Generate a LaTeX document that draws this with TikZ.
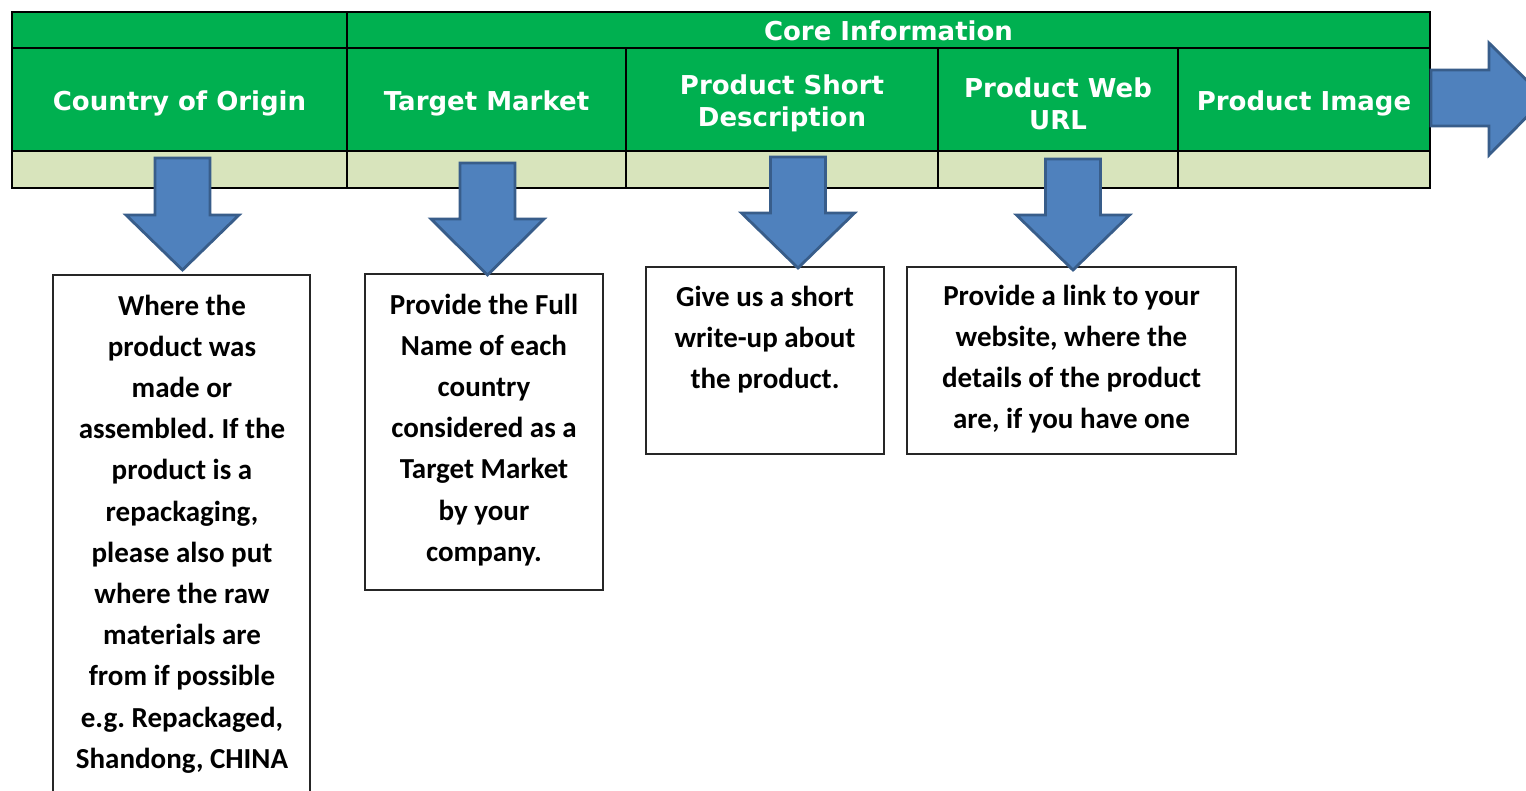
\documentclass[tikz,border=0pt]{standalone}
\usepackage{fontspec}
\newfontfamily\hdrfont{DejaVu Sans}
\newfontfamily\bodyfont{Carlito}
\definecolor{hgreen}{RGB}{0,176,80}
\definecolor{lgreen}{RGB}{216,228,188}
\definecolor{arrfill}{RGB}{79,129,189}
\definecolor{arrline}{RGB}{56,93,138}
\frenchspacing
\tikzset{
  hcell/.style={draw=black, line width=2pt, fill=hgreen, inner sep=0pt},
  htext/.style={text=white, font=\hdrfont\bfseries\fontsize{26}{32}\selectfont,
    align=center, inner sep=0pt},
  dcell/.style={draw=black, line width=2pt, fill=lgreen, inner sep=0pt},
  infobox/.style={draw=black!85, line width=2pt, fill=white, inner sep=0pt},
  infotext/.style={font=\bodyfont\bfseries\fontsize{29}{41.2}\selectfont,
    align=center, anchor=north, inner sep=0pt},
  blockarrow/.style={fill=arrfill, draw=arrline, line width=2.8pt, line join=miter},
}
% cell: name, x1, y1, x2, y2, style
\newcommand\tabcell[6]{%
  \node[#6, minimum width={#4-#2}, minimum height={#5-#3}] (#1)
    at ({(#2+#4)/2},{(#3+#5)/2}) {};}
% down block arrow: name, centre x, top y, head y, tip y
\newcommand\downblock[5]{%
  \coordinate (#1) at (#2,#5);
  \draw[blockarrow] (#2-27.5,#3) -- (#2+27.5,#3) -- (#2+27.5,#4) -- (#2+56.5,#4)
    -- (#1) -- (#2-56.5,#4) -- (#2-27.5,#4) -- cycle;}
\begin{document}
\begin{tikzpicture}[x=1pt,y=-1pt]
\clip (0,0) rectangle (1526,790);
\fill[white] (0,0) rectangle (1526,790);
% header row 1
\tabcell{h0}{12}{12}{347}{48}{hcell}
\tabcell{core}{347}{12}{1430}{48}{hcell}
% header row 2
\tabcell{c1}{12}{48}{347}{151}{hcell}
\tabcell{c2}{347}{48}{626}{151}{hcell}
\tabcell{c3}{626}{48}{938}{151}{hcell}
\tabcell{c4}{938}{48}{1178}{151}{hcell}
\tabcell{c5}{1178}{48}{1430}{151}{hcell}
% header texts
\node[htext, yshift=-0.5pt] (coret) at (core.center) {Core Information};
\node[htext, yshift=-4pt] (c1t) at (c1.center) {Country of Origin};
\node[htext, yshift=-4pt] (c2t) at (c2.center) {Target Market};
\node[htext, yshift=-4pt] (c3t) at (c3.center) {Product Short\\Description};
\node[htext, yshift=-4pt] (c4t) at (c4.center) {Product Web\\URL};
\node[htext, yshift=-4pt] (c5t) at (c5.center) {Product Image};
% data row
\tabcell{d1}{12}{151}{347}{188}{dcell}
\tabcell{d2}{347}{151}{626}{188}{dcell}
\tabcell{d3}{626}{151}{938}{188}{dcell}
\tabcell{d4}{938}{151}{1178}{188}{dcell}
\tabcell{d5}{1178}{151}{1430}{188}{dcell}
% info boxes
\tabcell{b1}{53}{275}{310}{805}{infobox}
\tabcell{b2}{365}{274}{603}{590}{infobox}
\tabcell{b3}{646}{267}{884}{454}{infobox}
\tabcell{b4}{907}{267}{1236}{454}{infobox}
\node[infotext] (t1) at (182,286) {\strut Where the\\product was\\made or\\assembled. If the\\product is a\\repackaging,\\please also put\\where the raw\\materials are\\from if possible\\e.g. Repackaged,\\Shandong, CHINA};
\node[infotext] (t2) at (484,285) {\strut Provide the Full\\Name of each\\country\\considered as a\\Target Market\\by your\\company.};
\node[infotext] (t3) at (765,277.5) {\strut Give us a short\\write-up about\\the product.};
\node[infotext] (t4) at (1071.5,276) {\strut Provide a link to your\\website, where the\\details of the product\\are, if you have one};
% arrows
\downblock{a1}{182.5}{158}{215}{270}
\downblock{a2}{487.5}{163}{219}{275}
\downblock{a3}{798}{157}{213}{268}
\downblock{a4}{1073}{159}{215}{270}
\coordinate (a5) at (1545,98.5);
\draw[blockarrow] (c5.east |- 0,70) -- (1489,70) -- (1489,43) -- (a5)
  -- (1489,155) -- (1489,126) -- (c5.east |- 0,126) -- cycle;
\end{tikzpicture}
\end{document}
